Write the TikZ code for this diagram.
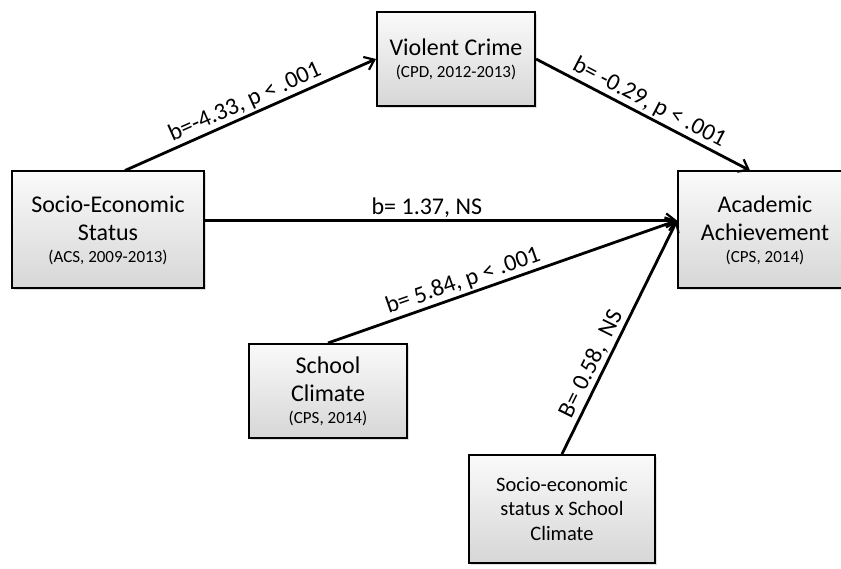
\documentclass[tikz,border=0pt]{standalone}
\usepackage{fontspec}
\setmainfont{Carlito}
\usetikzlibrary{arrows.meta,shadows}
\newcommand{\srcnote}[1]{{\fontsize{17}{19}\selectfont #1}}
\begin{document}
\begin{tikzpicture}[x=1pt,y=-1pt,
  box/.style={draw,line width=2pt,top color=gray!4,bottom color=gray!32,
    drop shadow={shadow xshift=2pt,shadow yshift=-2pt,opacity=0.25},
    align=center,font=\fontsize{24}{28}\selectfont,inner sep=0pt},
  path/.style={line width=2.8pt,-{Straight Barb[length=9pt,width=14pt,line width=2.2pt]}},
  est/.style={font=\fontsize{24}{28}\selectfont,inner sep=2pt}]
  \useasboundingbox (0,0) rectangle (841,569);
  \node[box,minimum width=192pt,minimum height=117pt] (ses) at (108,230)
    {Socio-Economic\\Status\\[-6pt]\srcnote{(ACS, 2009-2013)}};
  \node[box,minimum width=158pt,minimum height=94pt] (crime) at (456,59)
    {Violent Crime\\[-6pt]\srcnote{(CPD, 2012-2013)}};
  \node[box,minimum width=174pt,minimum height=117pt] (ach) at (765,230)
    {Academic\\Achievement\\[-6pt]\srcnote{(CPS, 2014)}};
  \node[box,minimum width=158pt,minimum height=94pt] (climate) at (328,391)
    {School\\Climate\\[-6pt]\srcnote{(CPS, 2014)}};
  \node[box,minimum width=186pt,minimum height=108pt,font=\fontsize{20.5}{24.5}\selectfont] (inter) at (562,509)
    {Socio-economic\\status x School\\Climate};
  \coordinate (hub) at ([yshift=9.5pt]ach.west);

  % paths
  \draw[path] ([xshift=17pt]ses.north) -- (crime.west)
    node[est,midway,above,sloped]{b=-4.33, p < .001};
  \draw[path] (crime.east) -- ([xshift=-15pt]ach.north)
    node[est,midway,above,sloped]{b= -0.29, p < .001};
  \draw[path] (ses.east |- hub) -- (hub)
    node[est,pos=0.47,above]{b= 1.37, NS};
  \draw[path] (climate.north) -- (hub)
    node[est,pos=0.4,above,sloped]{b= 5.84, p < .001};
  \draw[path] (inter.north) -- (hub)
    node[est,pos=0.36,above,sloped]{B= 0.58,~ NS};
\end{tikzpicture}
\end{document}
